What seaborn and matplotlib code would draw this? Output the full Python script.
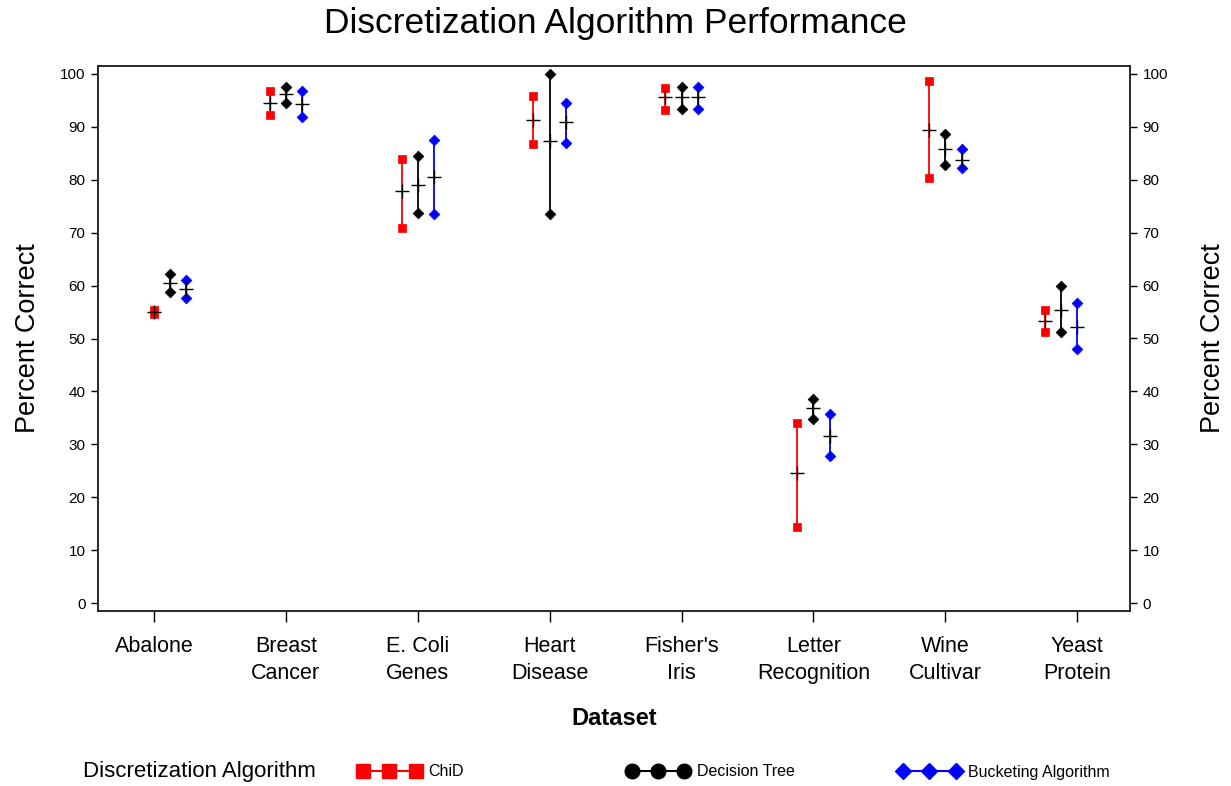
import numpy as np
import pandas as pd
import matplotlib
matplotlib.use("Agg")
import matplotlib.pyplot as plt
from matplotlib.lines import Line2D
import seaborn as sns

datasets = ["Abalone", "Breast\nCancer", "E. Coli\nGenes", "Heart\nDisease",
            "Fisher's\nIris", "Letter\nRecognition", "Wine\nCultivar", "Yeast\nProtein"]
algorithms = ["ChiD", "Decision Tree", "Bucketing Algorithm"]

chid_low  = [54.7, 92.2, 70.8, 86.7, 93.2, 14.4, 80.3, 51.2]
chid_high = [55.3, 96.8, 83.9, 95.9, 97.4, 34.1, 98.6, 55.4]
chid_mean = [55.0, 94.5, 77.8, 91.3, 95.6, 24.6, 89.4, 53.4]

dt_low  = [58.7, 94.5, 73.8, 73.5, 93.3, 34.7, 82.8, 51.3]
dt_high = [62.2, 97.6, 84.4, 100.0, 97.6, 38.5, 88.7, 60.0]
dt_mean = [60.5, 96.2, 79.1, 87.4, 95.6, 36.8, 85.8, 55.4]

bk_low  = [57.6, 91.9, 73.5, 87.0, 93.4, 27.8, 82.2, 48.0]
bk_high = [61.1, 96.7, 87.6, 94.6, 97.6, 35.7, 85.8, 56.7]
bk_mean = [59.4, 94.3, 80.6, 91.0, 95.6, 31.6, 83.7, 52.1]

# layout: dodge of each algorithm and per-dataset shift of the group
algo_offset = {"ChiD": -1, "Decision Tree": 0, "Bucketing Algorithm": 1}
group_shift = [1, 0, 0, 0, 0, 0, 0, -1]
dodge = 0.123

colors = {"ChiD": "#FF0000", "Decision Tree": "#000000", "Bucketing Algorithm": "#0000FF"}
markers = {"ChiD": "s", "Decision Tree": "D", "Bucketing Algorithm": "D"}

series = {"ChiD": (chid_low, chid_high, chid_mean),
          "Decision Tree": (dt_low, dt_high, dt_mean),
          "Bucketing Algorithm": (bk_low, bk_high, bk_mean)}

rows = []
for algo in algorithms:
    lo, hi, mn = series[algo]
    for i, ds in enumerate(datasets):
        xpos = i + dodge * (algo_offset[algo] + group_shift[i])
        rows.append(dict(dataset=ds, algo=algo, stat="low", value=lo[i], x=xpos))
        rows.append(dict(dataset=ds, algo=algo, stat="high", value=hi[i], x=xpos))
        rows.append(dict(dataset=ds, algo=algo, stat="mean", value=mn[i], x=xpos))
df = pd.DataFrame(rows)
ends = df[df.stat != "mean"]
means = df[df.stat == "mean"]

sns.set_style("white")
plt.rcParams["font.family"] = ["Liberation Sans", "DejaVu Sans"]
for k in ["text.color", "axes.labelcolor", "xtick.color", "ytick.color"]:
    plt.rcParams[k] = "black"

fig = plt.figure(figsize=(12.31, 7.86), dpi=100)
ax = fig.add_axes([98 / 1231, 1 - 611 / 786, (1130 - 98) / 1231, (611 - 66) / 786])

sns.lineplot(data=ends, x="x", y="value", hue="algo", units="dataset", estimator=None,
             sort=False, palette=colors, lw=1.3, legend=False, ax=ax)
for algo in algorithms:
    sub = ends[ends.algo == algo]
    sns.scatterplot(data=sub, x="x", y="value", color=colors[algo], marker=markers[algo],
                    s=40 if algo == "ChiD" else 30, edgecolor=colors[algo], linewidth=0.5,
                    legend=False, ax=ax, zorder=3)
sns.scatterplot(data=means, x="x", y="value", color="black", marker="+", s=110,
                linewidth=1.0, legend=False, ax=ax, zorder=4)

ax.set_xlim(-0.425, 7.40)
ax.set_ylim(-1.5, 101.5)
ax.set_xticks(range(len(datasets)))
ax.set_xticklabels(datasets, fontsize=15.5, linespacing=1.4)
yt = list(range(0, 101, 10))
ax.set_yticks(yt)
ax.set_yticklabels([str(v) for v in yt], fontsize=11)
ax.tick_params(axis="x", direction="out", length=8, width=1, pad=10, bottom=True)
ax.tick_params(axis="y", direction="out", length=5, width=1, pad=4, left=True)
ax.set_xlabel("Dataset", fontsize=17, fontweight="bold", labelpad=16)
ax.set_ylabel("Percent Correct", fontsize=19.5, labelpad=14)
for sp in ax.spines.values():
    sp.set_linewidth(1.1)
    sp.set_color("#222222")

ax2 = ax.twinx()
ax2.set_ylim(ax.get_ylim())
ax2.set_yticks(yt)
ax2.set_yticklabels([str(v) for v in yt], fontsize=11)
ax2.tick_params(axis="y", direction="out", length=5, width=1, pad=4, right=True)
ax2.set_ylabel("Percent Correct", fontsize=19.5, labelpad=23, rotation=90)
for sp in ax2.spines.values():
    sp.set_linewidth(1.1)
    sp.set_color("#222222")

fig.suptitle("Discretization Algorithm Performance", fontsize=25.5, y=1 - 23 / 786, va="center")

# legend
ly = 1 - 772 / 786
fig.text(83 / 1231, ly, "Discretization Algorithm", fontsize=16, va="center", ha="left")
leg_x = {"ChiD": 358, "Decision Tree": 627, "Bucketing Algorithm": 898}
leg_marker = {"ChiD": "s", "Decision Tree": "o", "Bucketing Algorithm": "D"}
leg_ms = {"ChiD": 9.5, "Decision Tree": 10.5, "Bucketing Algorithm": 8.5}
for algo in algorithms:
    h = Line2D([0], [0], color=colors[algo], marker=leg_marker[algo], ms=leg_ms[algo],
               lw=1.5, markeredgecolor=colors[algo])
    fig.legend(handles=[h], labels=[algo], loc="center left",
               bbox_to_anchor=(leg_x[algo] / 1231, ly), frameon=False, numpoints=3,
               handlelength=3.9, fontsize=11.5, borderpad=0, borderaxespad=0,
               handletextpad=0.5)

fig.savefig("out.png", dpi=100)
